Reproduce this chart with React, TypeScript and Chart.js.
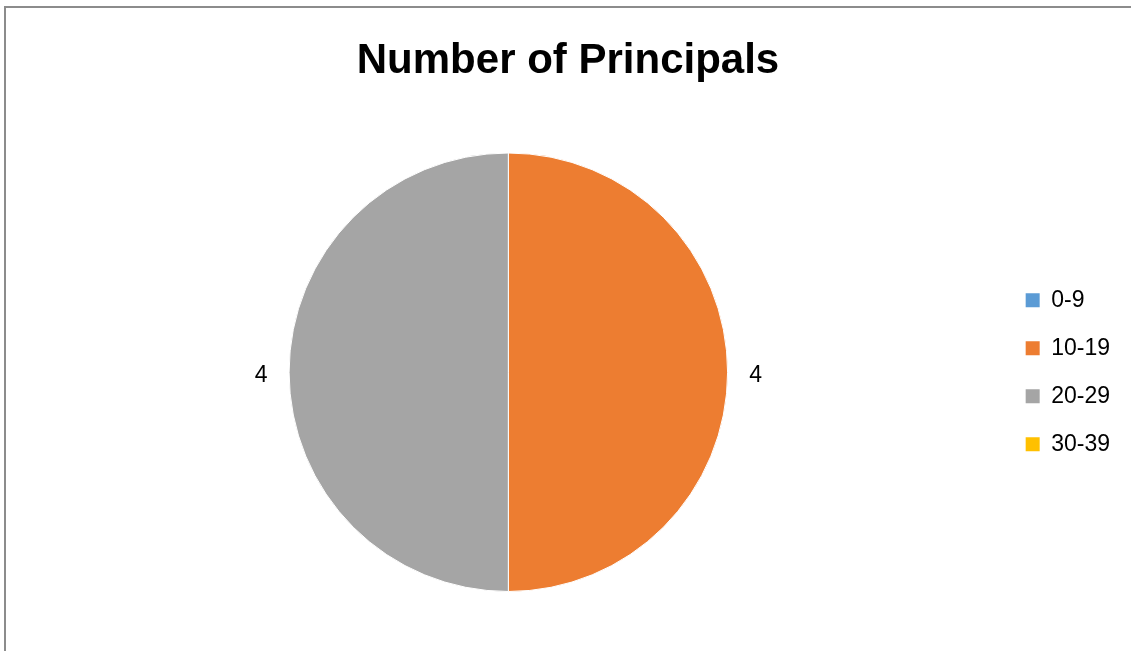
import React, { useEffect, useRef } from "react";
import { Chart, registerables } from "chart.js";

Chart.register(...registerables);

const titleText = "Number of Principals";
const categories = ["0-9", "10-19", "20-29", "30-39"];
const values = [0, 4, 4, 0];
const colors = ["#5B9BD5", "#ED7D31", "#A5A5A5", "#FFC000"];

const FONT = "'Liberation Sans', Arial, sans-serif";

const framePlugin = {
  id: "frame",
  beforeDraw(chart: any) {
    const { ctx, width, height } = chart;
    ctx.save();
    ctx.fillStyle = "#ffffff";
    ctx.fillRect(0, 0, width, height);
    ctx.fillStyle = "#8c8c8c";
    ctx.fillRect(4, 6, 2, height - 6);
    ctx.fillRect(4, 6, width - 4, 2);
    ctx.restore();
  },
};

const valueLabelPlugin = {
  id: "valueLabels",
  afterDatasetsDraw(chart: any) {
    const { ctx } = chart;
    const meta = chart.getDatasetMeta(0);
    const data = chart.data.datasets[0].data as number[];
    ctx.save();
    ctx.font = `23px ${FONT}`;
    ctx.fillStyle = "#000000";
    ctx.textAlign = "center";
    ctx.textBaseline = "middle";
    meta.data.forEach((arc: any, i: number) => {
      const v = data[i];
      if (!v) return;
      const p = arc.getProps(["x", "y", "startAngle", "endAngle", "outerRadius"], true);
      const mid = (p.startAngle + p.endAngle) / 2;
      const r = p.outerRadius + 28;
      ctx.fillText(String(v), p.x + Math.cos(mid) * r, p.y + Math.sin(mid) * r + 3);
    });
    ctx.restore();
  },
};

export default function App() {
  const ref = useRef<HTMLCanvasElement | null>(null);

  useEffect(() => {
    if (!ref.current) return;
    const defaultLabels = (Chart as any).overrides.pie.plugins.legend.labels.generateLabels;
    const chart = new Chart(ref.current, {
      type: "pie",
      data: {
        labels: categories,
        datasets: [
          {
            data: values,
            backgroundColor: colors,
            borderColor: "#ffffff",
            borderWidth: 1,
          },
        ],
      },
      options: {
        responsive: false,
        animation: false,
        layout: { padding: { left: 16, right: 11, top: 12, bottom: 59 } },
        plugins: {
          title: {
            display: true,
            text: titleText,
            color: "#000000",
            font: { family: FONT, size: 42, weight: "bold", lineHeight: 1.2 },
            padding: { top: 24, bottom: 66.1 },
          },
          legend: {
            display: true,
            position: "right",
            fullSize: false,
            labels: {
              boxWidth: 14,
              boxHeight: 14,
              padding: 25,
              color: "#000000",
              font: { family: FONT, size: 23 },
              generateLabels: (c: any) =>
                defaultLabels(c).map((it: any) => ({ ...it, lineWidth: 0 })),
            },
          },
          tooltip: { enabled: false },
        },
      },
      plugins: [framePlugin, valueLabelPlugin],
    });
    return () => chart.destroy();
  }, []);

  return (
    <div style={{ position: "fixed", left: 0, top: 0, width: 1131, height: 651, overflow: "hidden" }}>
      <canvas ref={ref} width={1131} height={651} style={{ display: "block" }} />
    </div>
  );
}
